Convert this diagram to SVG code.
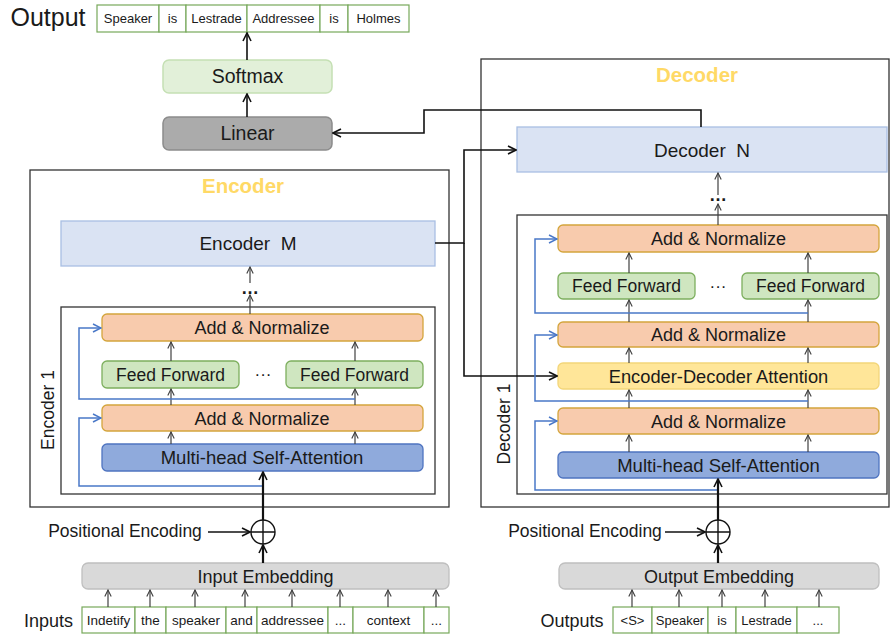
<svg xmlns="http://www.w3.org/2000/svg" width="891" height="635" viewBox="0 0 891 635">
<defs>
<style>
text{font-family:"Liberation Sans",Arial,sans-serif;fill:#1a1a1a;text-anchor:middle}
.an{fill:#f8cbad;stroke:#d4a53c;stroke-width:1.3}
.ff{fill:#cfe6c0;stroke:#7daf5e;stroke-width:1.3}
.mh{fill:#8faadc;stroke:#4f74c0;stroke-width:1.3}
.eda{fill:#ffe699;stroke:#f3d67a;stroke-width:1.3}
.bl{fill:#dae3f3;stroke:#a9bfe3;stroke-width:1.3}
.emb{fill:#d9d9d9;stroke:#bfbfbf;stroke-width:1.3}
.tok{fill:#fff;stroke:#77a85a;stroke-width:1.2}
.frame{fill:none;stroke:#333;stroke-width:1.3}
.t17{font-size:17.5px}
.t18{font-size:18px}
.t185{font-size:18.5px}
.t13{font-size:13px}
.title{font-size:20.5px;font-weight:bold;fill:#ffd966}
.g{fill:none;stroke:#404040;stroke-width:1.2;marker-end:url(#mg)}
.k{fill:none;stroke:#111;stroke-width:1.6;marker-end:url(#mk)}
.kt{fill:none;stroke:#111;stroke-width:2.2;marker-end:url(#mk)}
.b{fill:none;stroke:#4a78c8;stroke-width:1.5;marker-end:url(#mb)}
</style>
<marker id="mg" viewBox="0 0 10 10" refX="9" refY="5" markerWidth="8" markerHeight="8" markerUnits="userSpaceOnUse" orient="auto"><path d="M1,1 L9,5 L1,9" fill="none" stroke="#404040" stroke-width="1.4"/></marker>
<marker id="mk" viewBox="0 0 10 10" refX="9" refY="5" markerWidth="10" markerHeight="10" markerUnits="userSpaceOnUse" orient="auto"><path d="M1,1 L9,5 L1,9" fill="none" stroke="#111" stroke-width="1.6"/></marker>
<marker id="mb" viewBox="0 0 10 10" refX="9" refY="5" markerWidth="10" markerHeight="10" markerUnits="userSpaceOnUse" orient="auto"><path d="M1,1 L9,5 L1,9" fill="none" stroke="#4a78c8" stroke-width="1.5"/></marker>
</defs>
<rect width="891" height="635" fill="#fff"/>

<!-- frames -->
<g id="encoder-frame"><rect class="frame" x="30" y="170" width="419" height="337"/><text class="title" x="243" y="193">Encoder</text></g>
<g id="decoder-frame"><rect class="frame" x="481" y="59" width="408" height="448"/><text class="title" x="697" y="82">Decoder</text></g>
<g id="encoder1"><rect class="frame" x="61" y="307" width="374" height="187"/><text class="t17" transform="translate(54,410) rotate(-90)">Encoder 1</text></g>
<g id="decoder1"><rect class="frame" x="517" y="215" width="370" height="279"/><text class="t17" transform="translate(510,424) rotate(-90)">Decoder 1</text></g>

<!-- top -->
<g id="output-label"><text x="48" y="26" style="font-size:25px">Output</text></g>
<g id="output-tokens">
<rect class="tok" x="97" y="5" width="62" height="27"/><text class="t13" x="128" y="23">Speaker</text>
<rect class="tok" x="159" y="5" width="27" height="27"/><text class="t13" x="172.5" y="23">is</text>
<rect class="tok" x="186" y="5" width="61" height="27"/><text class="t13" x="216.5" y="23">Lestrade</text>
<rect class="tok" x="247" y="5" width="73" height="27"/><text class="t13" x="283.5" y="23">Addressee</text>
<rect class="tok" x="320" y="5" width="28" height="27"/><text class="t13" x="334" y="23">is</text>
<rect class="tok" x="348" y="5" width="61" height="27"/><text class="t13" x="378.5" y="23">Holmes</text>
</g>
<g id="softmax"><rect x="163" y="60" width="169" height="33" rx="6" fill="#e2f0d9" stroke="#c5e0b4" stroke-width="1.5"/><text x="247.5" y="83" style="font-size:19.5px">Softmax</text></g>
<g id="linear"><rect x="163" y="117" width="169" height="33" rx="6" fill="#ababab" stroke="#8c8c8c" stroke-width="1.5"/><text x="247.5" y="140" style="font-size:19.5px">Linear</text></g>

<!-- encoder -->
<g id="encoder-m"><rect class="bl" x="61" y="221" width="374" height="45"/><text x="248" y="250" style="font-size:19px" xml:space="preserve">Encoder  M</text></g>
<g id="enc-an2"><rect class="an" x="102" y="314" width="321" height="27" rx="5"/><text class="t18" x="262" y="334">Add &amp; Normalize</text></g>
<g id="enc-ff1"><rect class="ff" x="102" y="361" width="137" height="27" rx="5"/><text class="t17" x="170.5" y="381">Feed Forward</text></g>
<g id="enc-dots"><text x="263" y="380" style="font-size:17px">···</text></g>
<g id="enc-ff2"><rect class="ff" x="286" y="361" width="137" height="27" rx="5"/><text class="t17" x="354.5" y="381">Feed Forward</text></g>
<g id="enc-an1"><rect class="an" x="102" y="405" width="321" height="26" rx="5"/><text class="t18" x="262" y="424.5">Add &amp; Normalize</text></g>
<g id="enc-mh"><rect class="mh" x="102" y="444" width="321" height="27" rx="5"/><text class="t185" x="262" y="464">Multi-head Self-Attention</text></g>
<g id="enc-stack-dots"><text x="250" y="294" style="font-size:18px;font-weight:bold">…</text></g>

<!-- decoder -->
<g id="decoder-n"><rect class="bl" x="517" y="127" width="370" height="45"/><text x="702" y="157" style="font-size:19px" xml:space="preserve">Decoder  N</text></g>
<g id="dec-stack-dots"><text x="718" y="201" style="font-size:18px;font-weight:bold">…</text></g>
<g id="dec-an3"><rect class="an" x="558" y="225" width="321" height="27" rx="5"/><text class="t18" x="718.5" y="245">Add &amp; Normalize</text></g>
<g id="dec-ff1"><rect class="ff" x="558" y="273" width="137" height="26" rx="5"/><text class="t17" x="626.5" y="292">Feed Forward</text></g>
<g id="dec-dots"><text x="718" y="292" style="font-size:17px">···</text></g>
<g id="dec-ff2"><rect class="ff" x="742" y="273" width="137" height="26" rx="5"/><text class="t17" x="810.5" y="292">Feed Forward</text></g>
<g id="dec-an2"><rect class="an" x="558" y="322" width="321" height="25" rx="5"/><text class="t18" x="718.5" y="341">Add &amp; Normalize</text></g>
<g id="dec-eda"><rect class="eda" x="558" y="363" width="321" height="26" rx="5"/><text x="718.5" y="382.5" style="font-size:18.3px">Encoder-Decoder Attention</text></g>
<g id="dec-an1"><rect class="an" x="558" y="408" width="321" height="26" rx="5"/><text class="t18" x="718.5" y="427.5">Add &amp; Normalize</text></g>
<g id="dec-mh"><rect class="mh" x="558" y="452" width="321" height="26" rx="5"/><text class="t185" x="718.5" y="471.5">Multi-head Self-Attention</text></g>

<!-- bottom left -->
<g id="pos-enc-left"><text class="t17" x="125" y="537">Positional Encoding</text></g>
<g id="add-left"><circle cx="263" cy="532" r="12" fill="#fff" stroke="#111" stroke-width="1.4"/><path d="M251,532 H275 M263,520 V544" stroke="#111" stroke-width="1.4"/></g>
<g id="input-embedding"><rect class="emb" x="82" y="563" width="367" height="26" rx="6"/><text x="265.5" y="583" style="font-size:18px">Input Embedding</text></g>
<g id="inputs-label"><text x="48.5" y="627" style="font-size:18px">Inputs</text></g>
<g id="input-tokens">
<rect class="tok" x="82" y="607" width="53" height="26"/><text class="t13" x="108.5" y="625" style="font-size:13.5px">Indetify</text>
<rect class="tok" x="135" y="607" width="31" height="26"/><text class="t13" x="150.5" y="625" style="font-size:13.5px">the</text>
<rect class="tok" x="166" y="607" width="60" height="26"/><text class="t13" x="196" y="625" style="font-size:13.5px">speaker</text>
<rect class="tok" x="226" y="607" width="31" height="26"/><text class="t13" x="241.5" y="625" style="font-size:13.5px">and</text>
<rect class="tok" x="257" y="607" width="71" height="26"/><text class="t13" x="292.5" y="625" style="font-size:13.5px">addressee</text>
<rect class="tok" x="328" y="607" width="25" height="26"/><text class="t13" x="340.5" y="625" style="font-size:13.5px">...</text>
<rect class="tok" x="353" y="607" width="71" height="26"/><text class="t13" x="388.5" y="625" style="font-size:13.5px">context</text>
<rect class="tok" x="424" y="607" width="25" height="26"/><text class="t13" x="436.5" y="625" style="font-size:13.5px">...</text>
</g>

<!-- bottom right -->
<g id="pos-enc-right"><text class="t17" x="585" y="537">Positional Encoding</text></g>
<g id="add-right"><circle cx="718" cy="532" r="12" fill="#fff" stroke="#111" stroke-width="1.4"/><path d="M706,532 H730 M718,520 V544" stroke="#111" stroke-width="1.4"/></g>
<g id="output-embedding"><rect class="emb" x="559" y="563" width="320" height="26" rx="6"/><text x="719" y="583" style="font-size:18px">Output Embedding</text></g>
<g id="outputs-label"><text x="572" y="627" style="font-size:18px">Outputs</text></g>
<g id="output-seq">
<rect class="tok" x="613" y="607" width="39" height="26"/><text class="t13" x="632.5" y="625">&lt;S&gt;</text>
<rect class="tok" x="652" y="607" width="56" height="26"/><text class="t13" x="680" y="625">Speaker</text>
<rect class="tok" x="708" y="607" width="28" height="26"/><text class="t13" x="722" y="625">is</text>
<rect class="tok" x="736" y="607" width="61" height="26"/><text class="t13" x="766.5" y="625">Lestrade</text>
<rect class="tok" x="797" y="607" width="42" height="26"/><text class="t13" x="818" y="625">...</text>
</g>

<g id="connectors">
<path class="k" d="M247,60 V33"/>
<path class="k" d="M247,117 V94"/>
<path class="k" d="M701,127 V110 H424 V133 H333"/>
<path class="k" d="M435,243 H464 V150 H516"/>
<path class="k" d="M464,243 V376 H557"/>
<path class="g" d="M250,283 V267"/>
<path class="g" d="M250,314 V295"/>
<path class="g" d="M718,195 V173"/>
<path class="g" d="M718,225 V204"/>
<path class="g" d="M171,444 V432"/><path class="g" d="M355,444 V432"/>
<path class="g" d="M171,405 V389"/><path class="g" d="M355,405 V389"/>
<path class="g" d="M171,361 V342"/><path class="g" d="M355,361 V342"/>
<path class="b" d="M263,486 H79 V418 H101"/>
<path class="b" d="M355,399 H79 V328 H101"/>
<path class="kt" d="M263,520 V472"/>
<path class="g" d="M629,452 V435"/><path class="g" d="M808,452 V435"/>
<path class="g" d="M629,408 V390"/><path class="g" d="M808,408 V390"/>
<path class="g" d="M629,363 V348"/><path class="g" d="M808,363 V348"/>
<path class="g" d="M629,322 V300"/><path class="g" d="M808,322 V300"/>
<path class="g" d="M629,273 V253"/><path class="g" d="M808,273 V253"/>
<path class="b" d="M718,490 H535 V421 H557"/>
<path class="b" d="M808,401 H535 V335 H557"/>
<path class="b" d="M808,313 H535 V239 H557"/>
<path class="kt" d="M718,520 V479"/>
<path class="k" d="M208,532 H250"/>
<path class="k" d="M665,532 H705"/>
<path class="kt" d="M263,563 V545"/>
<path class="kt" d="M718,563 V545"/>
<path class="g" d="M108,607 V590"/><path class="g" d="M150,607 V590"/><path class="g" d="M195,607 V590"/><path class="g" d="M245,607 V590"/>
<path class="g" d="M292,607 V590"/><path class="g" d="M340,607 V590"/><path class="g" d="M388,607 V590"/><path class="g" d="M436,607 V590"/>
<path class="g" d="M632,607 V590"/><path class="g" d="M679,607 V590"/><path class="g" d="M722,607 V590"/><path class="g" d="M765,607 V590"/><path class="g" d="M819,607 V590"/>
</g>
</svg>
